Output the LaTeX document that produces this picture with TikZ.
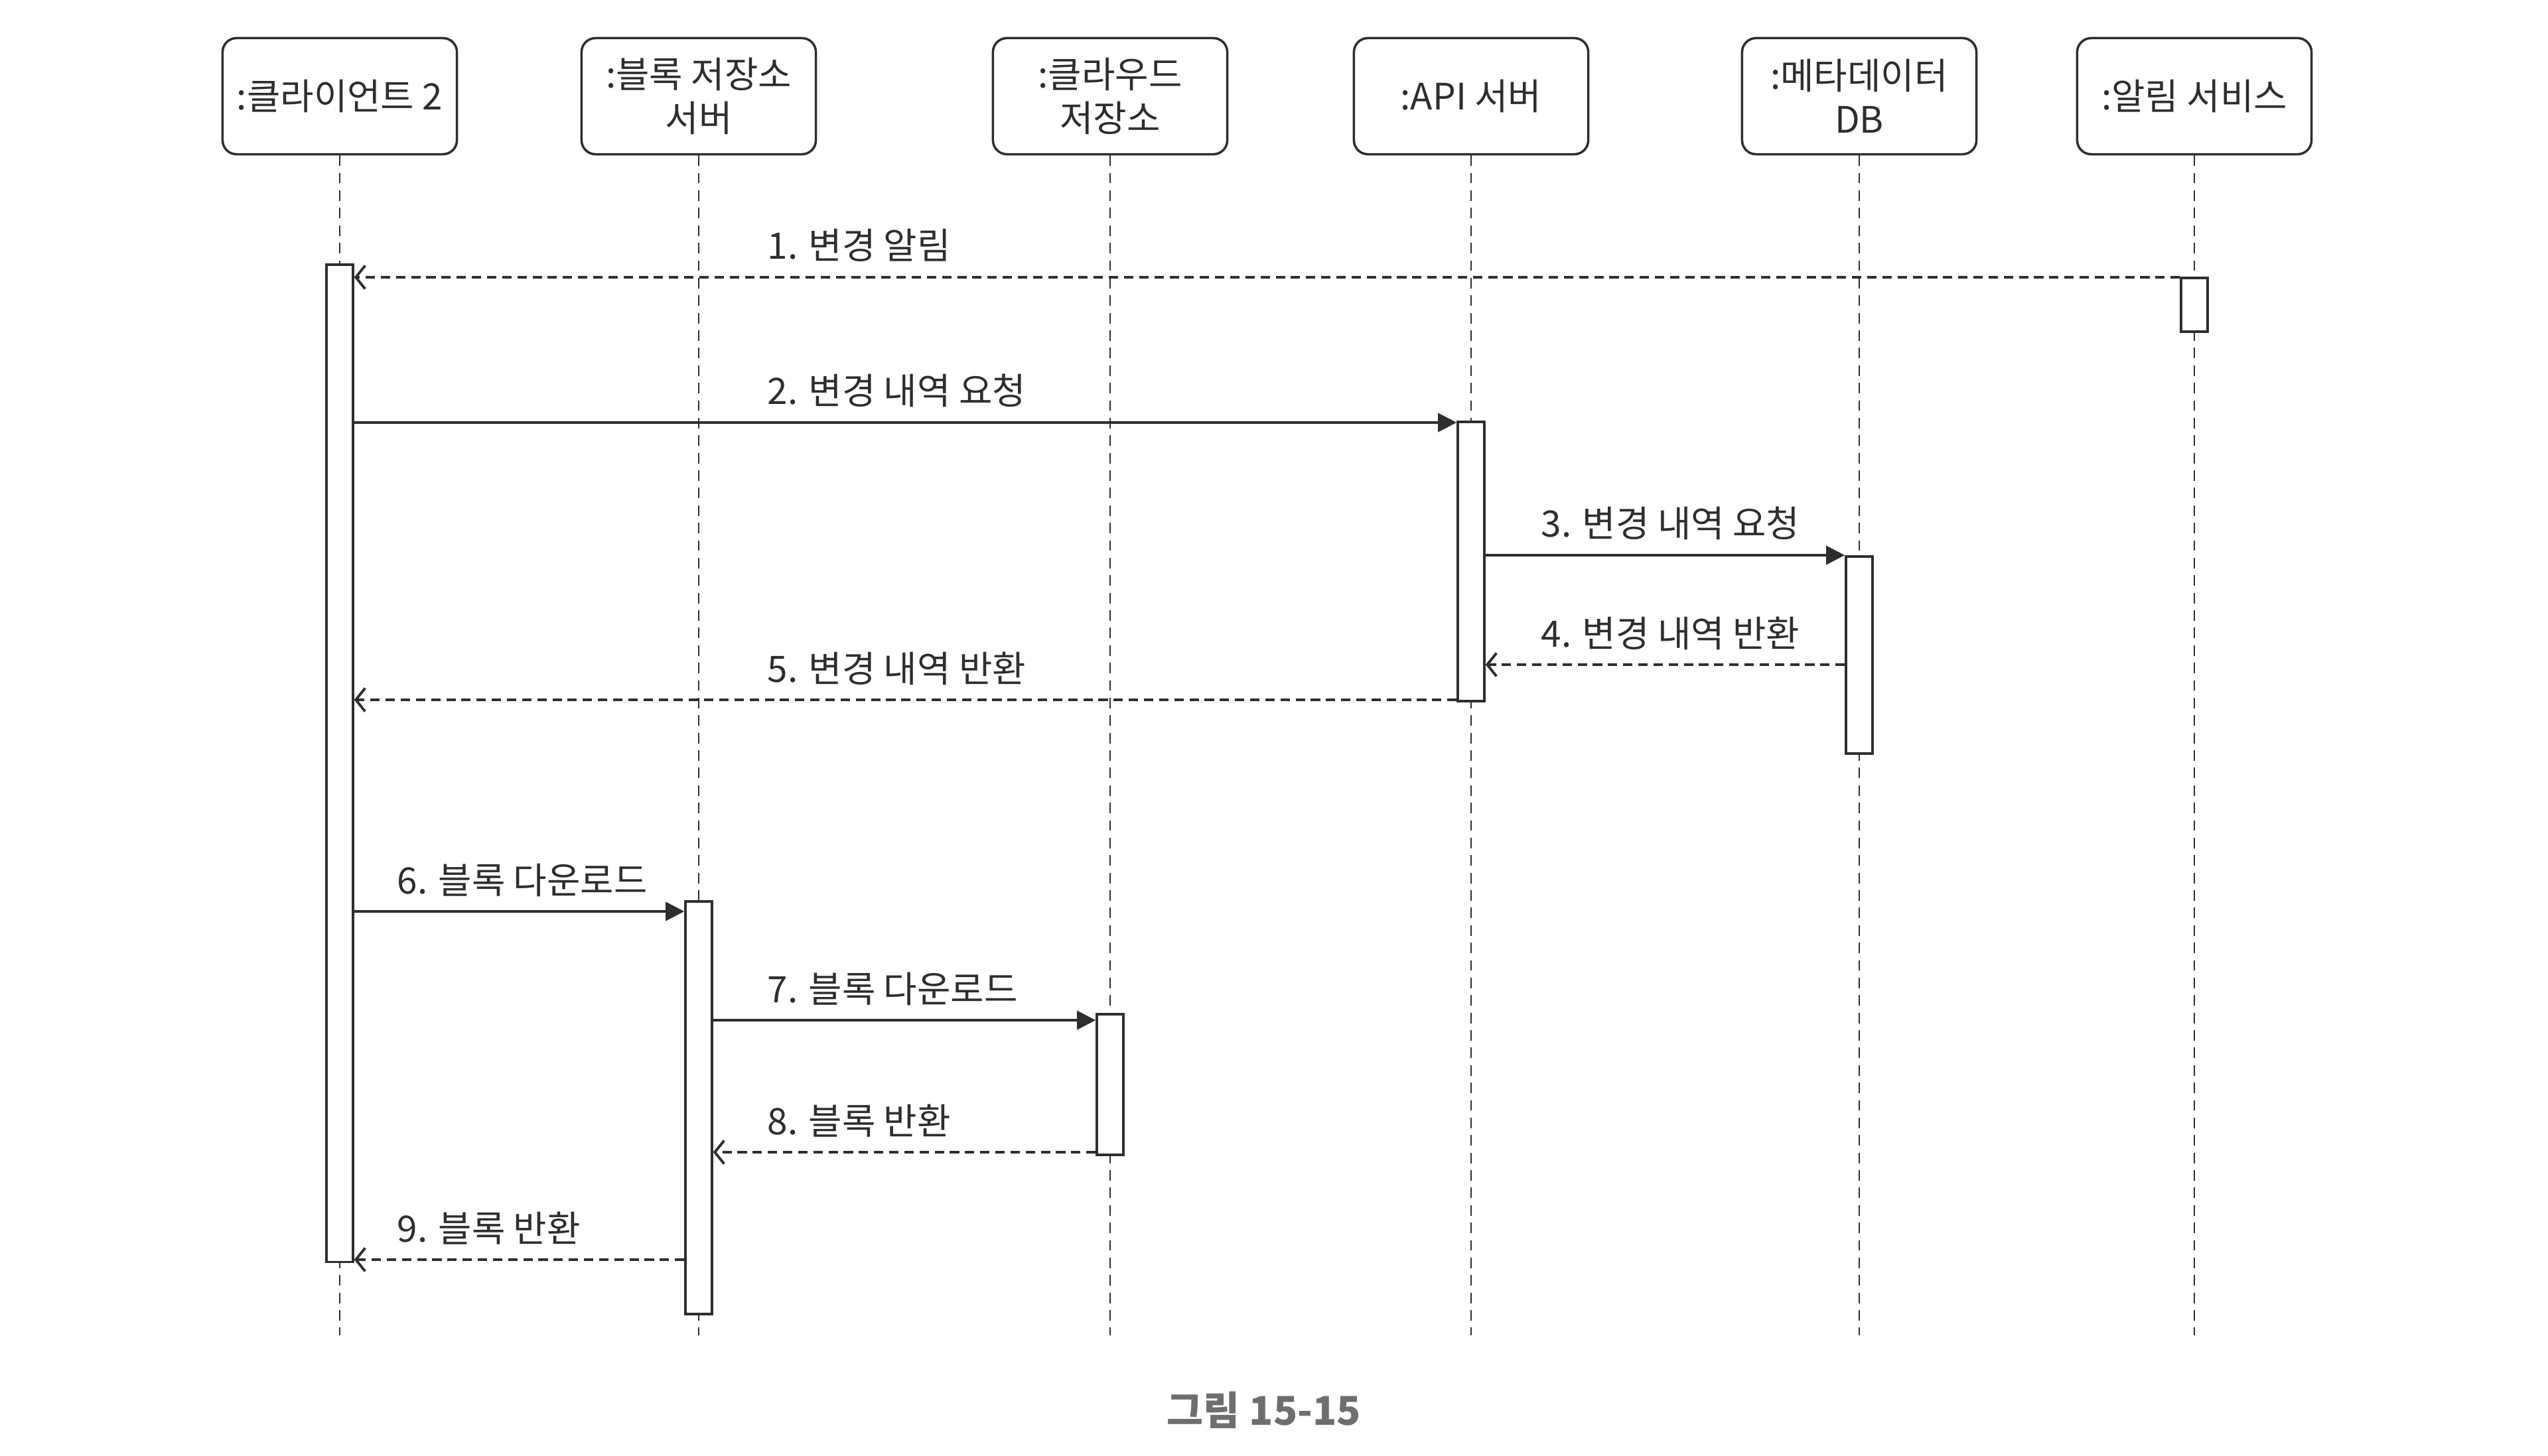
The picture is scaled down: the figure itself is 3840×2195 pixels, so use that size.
\documentclass[tikz,border=0pt]{standalone}
\usepackage{fontspec}
\setmainfont{Noto Sans CJK KR}
\usetikzlibrary{arrows.meta}

\definecolor{ink}{HTML}{2E2E2E}
\definecolor{capgray}{HTML}{6E6E6E}

\begin{document}
\begin{tikzpicture}[x=0.01cm, y=-0.01cm,
    every node/.style={font=\fontsize{15.6pt}{18.7pt}\selectfont, text=ink},
    obj/.style={draw=ink, line width=1pt, rounded corners=6pt, align=center,
      minimum width=3.53cm, minimum height=1.75cm, inner sep=0pt},
    act/.style={draw=ink, line width=1pt, fill=white, minimum width=0.4cm,
      inner sep=0pt, anchor=north},
    life/.style={draw=ink, line width=0.7pt, dash pattern=on 4.5pt off 3pt},
    call/.style={draw=ink, line width=1.1pt, -{Triangle[length=8pt,width=8pt]}},
    ret/.style={draw=ink, line width=1.1pt, dash pattern=on 4pt off 2.5pt,
      -{Straight Barb[length=4pt,width=10pt]}},
    lbl/.style={anchor=base west, inner sep=0pt}]
  \useasboundingbox (0,0) rectangle (3840,2195);

  % Lifeline positions
  \def\xc{512}
  \def\xb{1053}
  \def\xs{1673}
  \def\xa{2217}
  \def\xm{2802}
  \def\xn{3307}
  \def\yend{2013}

  % Objects
  \node[obj] (client) at (\xc,145) {:클라이언트 2};
  \node[obj] (blocksrv) at (\xb,145) {:블록 저장소\\서버};
  \node[obj] (cloud) at (\xs,145) {:클라우드\\저장소};
  \node[obj] (api) at (\xa,145) {:API 서버};
  \node[obj] (meta) at (\xm,145) {:메타데이터\\DB};
  \node[obj] (notif) at (\xn,145) {:알림 서비스};

  % Lifelines
  \foreach \o in {client, blocksrv, cloud, api, meta, notif}
    \draw[life] (\o.south) -- (\o.south |- 0,\yend);

  % Activation bars
  \node[act, minimum height=15.03cm] (actClient) at (\xc,397) {};
  \node[act, minimum height=0.81cm] (actNotif) at (\xn,417) {};
  \node[act, minimum height=4.21cm] (actApi) at (\xa,634) {};
  \node[act, minimum height=2.97cm] (actMeta) at (\xm,837) {};
  \node[act, minimum height=6.22cm] (actBlock) at (\xb,1357) {};
  \node[act, minimum height=2.12cm] (actCloud) at (\xs,1527) {};

  % Message levels
  \coordinate (m1) at (0,418);
  \coordinate (m2) at (0,637);
  \coordinate (m3) at (0,837);
  \coordinate (m4) at (0,1002);
  \coordinate (m5) at (0,1055);
  \coordinate (m6) at (0,1374);
  \coordinate (m7) at (0,1538);
  \coordinate (m8) at (0,1737);
  \coordinate (m9) at (0,1899);

  % Messages
  \draw[ret] (actNotif.west |- m1) -- (actClient.east |- m1);
  \node[lbl] (l1) at (1156,391) {1. 변경 알림};

  \draw[call] (actClient.east |- m2) -- (actApi.west |- m2);
  \node[lbl] (l2) at (1156,610) {2. 변경 내역 요청};

  \draw[call] (actApi.east |- m3) -- (actMeta.west |- m3);
  \node[lbl] (l3) at (2322,810) {3. 변경 내역 요청};

  \draw[ret] (actMeta.west |- m4) -- (actApi.east |- m4);
  \node[lbl] (l4) at (2322,975) {4. 변경 내역 반환};

  \draw[ret] (actApi.west |- m5) -- (actClient.east |- m5);
  \node[lbl] (l5) at (1156,1028) {5. 변경 내역 반환};

  \draw[call] (actClient.east |- m6) -- (actBlock.west |- m6);
  \node[lbl] (l6) at (598,1347) {6. 블록 다운로드};

  \draw[call] (actBlock.east |- m7) -- (actCloud.west |- m7);
  \node[lbl] (l7) at (1156,1511) {7. 블록 다운로드};

  \draw[ret] (actCloud.west |- m8) -- (actBlock.east |- m8);
  \node[lbl] (l8) at (1156,1710) {8. 블록 반환};

  \draw[ret] (actBlock.west |- m9) -- (actClient.east |- m9);
  \node[lbl] (l9) at (598,1872) {9. 블록 반환};

  % Caption
  \node[font=\fontsize{17pt}{20pt}\selectfont\bfseries, text=capgray] (caption)
    at (1905,2126) {그림 15-15};
\end{tikzpicture}
\end{document}
